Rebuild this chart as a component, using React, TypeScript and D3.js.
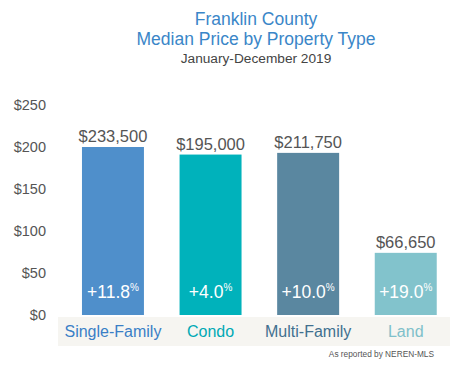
import React from "react";
import * as d3 from "d3";

const categories = ["Single-Family", "Condo", "Multi-Family", "Land"];
// bar heights as drawn against the $ (thousands) axis
const barHeights = [200, 191, 193, 74];
const priceLabels = ["$233,500", "$195,000", "$211,750", "$66,650"];
const changeLabels = ["+11.8", "+4.0", "+10.0", "+19.0"];
const yTicks = [0, 50, 100, 150, 200, 250];

const barColors = ["#4f8fcb", "#00b2bb", "#5a87a0", "#82c3cc"];
const labelColors = ["#3a7fc6", "#00a9b5", "#41708f", "#7fc0ca"];

const W = 450;
const H = 376;
const FONT = "'Liberation Sans', Arial, Helvetica, sans-serif";

export default function App() {
  const y = d3.scaleLinear().domain([0, 250]).range([315, 105]);
  const x = d3
    .scaleBand<string>()
    .domain(categories)
    .range([64.4, 454.3])
    .paddingInner(0.365)
    .paddingOuter(0.18);

  return (
    <svg
      width={W}
      height={H}
      style={{ position: "absolute", left: 0, top: 0, background: "#fff" }}
      fontFamily={FONT}
    >
      <text x={256} y={25} textAnchor="middle" fontSize={17.5} fill="#3a86c8">
        Franklin County
      </text>
      <text x={256} y={45} textAnchor="middle" fontSize={17.5} fill="#3a86c8">
        Median Price by Property Type
      </text>
      <text x={256} y={63} textAnchor="middle" fontSize={13.7} fill="#444">
        January-December 2019
      </text>

      {yTicks.map((t) => (
        <text
          key={t}
          x={46}
          y={y(t) + 5}
          textAnchor="end"
          fontSize={14.5}
          fill="#555"
        >
          {"$" + t}
        </text>
      ))}

      <rect x={58} y={317} width={392} height={29} fill="#f6f5f1" />

      {categories.map((c, i) => {
        const bx = x(c)!;
        const bw = x.bandwidth();
        const cx = bx + bw / 2;
        return (
          <g key={c}>
            <rect
              x={bx}
              y={y(barHeights[i])}
              width={bw}
              height={y(0) - y(barHeights[i])}
              fill={barColors[i]}
            />
            <text
              x={cx}
              y={y(barHeights[i]) - 5}
              textAnchor="middle"
              fontSize={16.5}
              fill="#555"
            >
              {priceLabels[i]}
            </text>
            <text
              x={cx}
              y={298}
              textAnchor="middle"
              fontSize={17.5}
              fill="#fff"
            >
              {changeLabels[i]}
              <tspan fontSize={10} dy={-7}>
                %
              </tspan>
            </text>
            <text
              x={cx}
              y={337}
              textAnchor="middle"
              fontSize={16}
              fill={labelColors[i]}
            >
              {c}
            </text>
          </g>
        );
      })}

      <text x={434} y={357} textAnchor="end" fontSize={8.3} fill="#555">
        As reported by NEREN-MLS
      </text>
    </svg>
  );
}
